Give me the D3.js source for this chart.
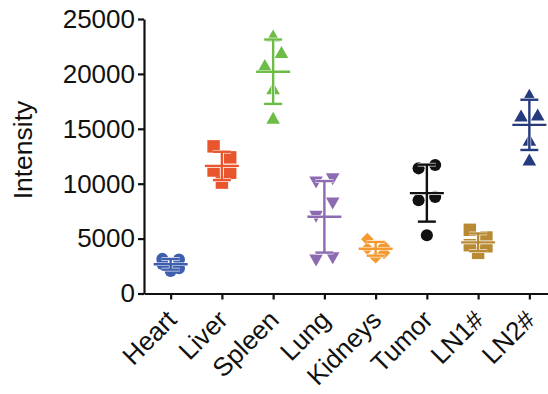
<!DOCTYPE html>
<html>
<head>
<meta charset="utf-8">
<script src="https://cdn.jsdelivr.net/npm/d3@7/dist/d3.min.js"></script>
<style>
  html, body { margin: 0; padding: 0; background: #fff; }
  svg { display: block; font-family: "Liberation Sans", Arial, sans-serif; }
</style>
</head>
<body>
<svg id="chart" width="548" height="394"></svg>
<script>
// Tissue intensity per organ, individual measurements
const categories = ["Heart", "Liver", "Spleen", "Lung", "Kidneys", "Tumor", "LN1#", "LN2#"];
const heart   = [3150, 3100, 2700, 2300, 2050];
const liver   = [13400, 12400, 11200, 11000, 10100];
const spleen  = [23500, 22000, 20800, 18700, 16000];
const lung    = [10400, 10100, 8200, 7000, 3200, 3000];
const kidneys = [4950, 4300, 4100, 3700, 3300];
const tumor   = [11700, 11400, 8800, 8500, 5300];
const ln1     = [5800, 5100, 4400, 4300, 3700];
const ln2     = [18100, 16300, 16200, 14000, 12200];
const yTicks  = [0, 5000, 10000, 15000, 20000, 25000];
const yLabel  = "Intensity";

const groupValues = [heart, liver, spleen, lung, kidneys, tumor, ln1, ln2];
const colors  = ["#3e5eae", "#e9552d", "#6cbc46", "#8d6bb3", "#f59a31", "#111111", "#b88a34", "#263b7e"];
const shapes  = ["circle", "square", "triangle", "triangleDown", "diamond", "circle", "square", "triangle"];

const svg = d3.select("#chart");

const x = d3.scalePoint().domain(categories).range([144, 556]).padding(0.52);
const y = d3.scaleLinear().domain([0, 25000]).range([293.5, 19]);

// marker shapes
const triUp = { draw(ctx) { const w = 6.8, h = 6; ctx.moveTo(0, -h); ctx.lineTo(w, h); ctx.lineTo(-w, h); ctx.closePath(); } };
const triDown = { draw(ctx) { const w = 6.8, h = 6; ctx.moveTo(0, h); ctx.lineTo(w, -h); ctx.lineTo(-w, -h); ctx.closePath(); } };
const diamond = { draw(ctx) { const r = 6.3; ctx.moveTo(0, -r); ctx.lineTo(r, 0); ctx.lineTo(0, r); ctx.lineTo(-r, 0); ctx.closePath(); } };
const symbolFor = {
  circle: d3.symbol(d3.symbolCircle, 115),
  square: d3.symbol(d3.symbolSquare, 155),
  triangle: d3.symbol(triUp),
  triangleDown: d3.symbol(triDown),
  diamond: d3.symbol(diamond)
};

// spread overlapping points sideways
const spread = 8.3, overlap = 15;
function dodge(values) {
  const items = values.map(v => ({ v, py: y(v), dx: 0 })).sort((a, b) => a.py - b.py);
  const clusters = [];
  items.forEach((it, i) => {
    if (i > 0 && it.py - items[i - 1].py < overlap) clusters[clusters.length - 1].push(it);
    else clusters.push([it]);
  });
  clusters.forEach(c => {
    if (c.length === 2) { c[0].dx = spread; c[1].dx = -spread; }
    else if (c.length > 2) {
      c.forEach((it, i) => { it.dx = (i % 2 === 0 ? -spread : spread); });
      if (c.length % 2 === 1) c[c.length - 1].dx = 0;
    }
  });
  return items;
}

// axes
const yAxis = svg.append("g")
  .attr("transform", "translate(144,0)")
  .call(d3.axisLeft(y).tickValues(yTicks).tickFormat(d3.format("d")).tickSize(6).tickSizeOuter(0).tickPadding(3));
const xAxis = svg.append("g")
  .attr("transform", "translate(0,293.5)")
  .call(d3.axisBottom(x).tickSize(6).tickSizeOuter(0).tickFormat(""));
[yAxis, xAxis].forEach(g => {
  g.select(".domain").attr("stroke", "#111").attr("stroke-width", 2.2);
  g.selectAll(".tick line").attr("stroke", "#111").attr("stroke-width", 2.2);
});
yAxis.selectAll(".tick text").attr("font-size", 26).attr("fill", "#111");

svg.append("g").selectAll("text").data(categories).join("text")
  .attr("transform", d => `translate(${x(d) + 1},315) rotate(-45)`)
  .attr("text-anchor", "end")
  .attr("dy", "0.35em")
  .attr("font-size", 26)
  .attr("fill", "#111")
  .text(d => d);

svg.append("text")
  .attr("transform", "translate(23,150) rotate(-90)")
  .attr("text-anchor", "middle")
  .attr("dy", "0.35em")
  .attr("font-size", 26.5)
  .attr("fill", "#111")
  .text(yLabel);

// points and mean ± SD bars
categories.forEach((cat, i) => {
  const vals = groupValues[i];
  const cx = x(cat);
  const g = svg.append("g");
  g.selectAll("path.pt").data(dodge(vals)).join("path")
    .attr("class", "pt")
    .attr("fill", colors[i])
    .attr("d", symbolFor[shapes[i]])
    .attr("transform", d => `translate(${cx + d.dx},${d.py})`);

  const m = d3.mean(vals), sd = d3.deviation(vals);
  const segs = [
    [cx, y(m + sd), cx, y(m - sd)],
    [cx - 17, y(m), cx + 17, y(m)],
    [cx - 9, y(m + sd), cx + 9, y(m + sd)],
    [cx - 9, y(m - sd), cx + 9, y(m - sd)]
  ];
  g.selectAll("line.halo").data(segs).join("line").attr("class", "halo")
    .attr("x1", d => d[0]).attr("y1", d => d[1]).attr("x2", d => d[2]).attr("y2", d => d[3])
    .attr("stroke", "#fff").attr("stroke-width", 3.6);
  g.selectAll("line.bar").data(segs).join("line").attr("class", "bar")
    .attr("x1", d => d[0]).attr("y1", d => d[1]).attr("x2", d => d[2]).attr("y2", d => d[3])
    .attr("stroke", colors[i]).attr("stroke-width", 2.4);
});
</script>
</body>
</html>
